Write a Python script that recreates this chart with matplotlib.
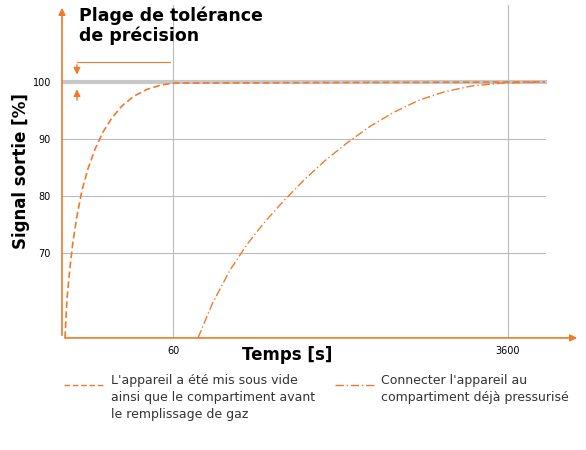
import matplotlib.pyplot as plt

orange = "#ee7a2c"

# x in chart units (non-linear time axis), y in % output signal
x_vac = [3, 5, 8, 11, 15, 20, 26, 33, 41, 50, 60, 72, 85, 98, 111, 483]
y_vac = [55.1, 62, 67.5, 72, 76.5, 81, 84.8, 88.2, 91.2, 93.7, 95.8, 97.5, 98.7, 99.4, 99.8, 100]
x_pres = [136, 150, 168, 185, 203, 222, 242, 263, 285, 308, 332, 357, 383, 410, 440, 483]
y_pres = [55.1, 61, 67, 71.5, 75.5, 79.2, 82.8, 86.2, 89.3, 92.2, 94.7, 96.8, 98.3, 99.3, 99.8, 100]
yticks = [70, 80, 90, 100]
xticks = [111, 446]
xlabels = ["60", "3600"]

fig = plt.figure(figsize=(5.86, 4.5), dpi=100)
ax = fig.add_axes([0.1058, 0.249, 0.884, 0.74])
ax.set_xlim(0, 518)
ax.set_ylim(55.1, 113.5)
for s in ax.spines.values():
    s.set_visible(False)

for y in yticks:
    ax.plot([0, 483], [y, y], color="#bbbbbb", lw=0.8, zorder=1)
ax.plot([0, 483], [100, 100], color="#c8c8c8", lw=3, zorder=1)
for x in xticks:
    ax.plot([x, x], [55.1, 113.5], color="#bbbbbb", lw=0.8, zorder=1)

ax.plot(x_vac, y_vac, color=orange, lw=1.2, ls=(0, (4, 2)), zorder=3)
ax.plot(x_pres, y_pres, color=orange, lw=1.0, ls=(0, (6, 2, 1, 2)), zorder=3)

ax.set_yticks(yticks)
ax.set_yticklabels([str(v) for v in yticks], fontsize=7)
ax.set_xticks(xticks)
ax.set_xticklabels(xlabels, fontsize=7)
ax.tick_params(length=0)
ax.tick_params(axis="y", pad=8)
ax.tick_params(axis="x", pad=6)

# axis arrows
ax.annotate("", xy=(0, 1), xytext=(0, 0), xycoords="axes fraction",
            arrowprops=dict(arrowstyle="-|>", color=orange, lw=1.2))
ax.annotate("", xy=(1, 0), xytext=(0, 0), xycoords="axes fraction",
            arrowprops=dict(arrowstyle="-|>", color=orange, lw=1.2))

# tolerance annotation
ax.plot([15, 108], [103.5, 103.5], color=orange, lw=0.8)
ax.annotate("", xy=(15, 100.8), xytext=(15, 103.5),
            arrowprops=dict(arrowstyle="-|>", color=orange, lw=1))
ax.annotate("", xy=(15, 99.2), xytext=(15, 96.3),
            arrowprops=dict(arrowstyle="-|>", color=orange, lw=1))
fig.text(0.135, 0.985, "Plage de tolérance\nde précision", fontsize=12.5,
         fontweight="bold", va="top", linespacing=1.1)

fig.text(0.035, 0.62, "Signal sortie [%]", rotation=90, fontsize=12,
         fontweight="bold", va="center", ha="center")
fig.text(0.49, 0.21, "Temps [s]", fontsize=12, fontweight="bold",
         ha="center", va="center")

# legend
fig.lines.append(plt.Line2D([0.11, 0.18], [0.145, 0.145], color=orange, lw=1,
                            ls=(0, (4, 2)), transform=fig.transFigure))
fig.lines.append(plt.Line2D([0.572, 0.64], [0.145, 0.145], color=orange, lw=1,
                            ls=(0, (6, 2, 1, 2)), transform=fig.transFigure))
fig.text(0.19, 0.168, "L'appareil a été mis sous vide\nainsi que le compartiment avant\nle remplissage de gaz",
         fontsize=9, va="top", linespacing=1.4, color="#333333")
fig.text(0.65, 0.168, "Connecter l'appareil au\ncompartiment déjà pressurisé",
         fontsize=9, va="top", linespacing=1.4, color="#333333")

fig.savefig("out.png", dpi=100)
